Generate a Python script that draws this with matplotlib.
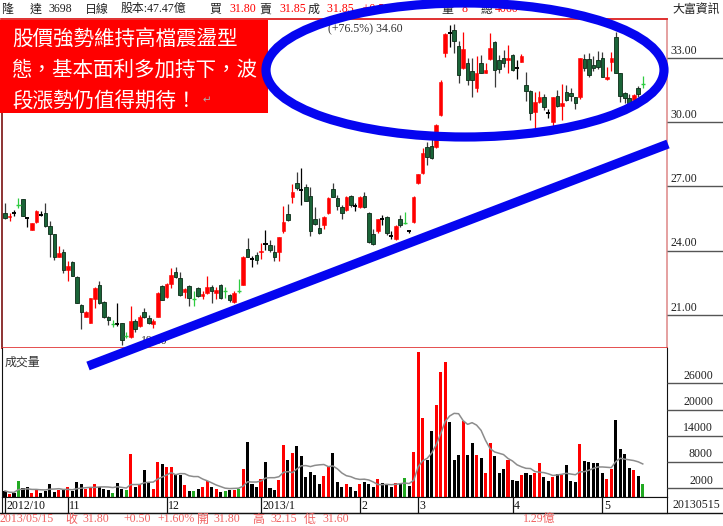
import matplotlib
matplotlib.use("Agg")
import matplotlib.pyplot as plt
import numpy as np
import pandas as pd
from matplotlib.patches import Ellipse, Rectangle

# ---------------- data ----------------
opens = [25.78, 25.58, 25.75, 26.20, 26.41, 25.52, 24.97, 25.36, 25.67, 25.78,
         25.16, 24.79, 23.73, 23.96, 23.08, 23.49, 22.77, 21.47, 20.93, 20.65,
         21.74, 22.41, 21.63, 20.93, 20.62, 20.59, 20.62, 20.10, 19.99, 20.70,
         20.49, 21.16, 20.88, 20.59, 20.93, 22.36, 21.86, 22.45, 23.00, 22.72,
         22.09, 22.36, 21.86, 22.25, 21.90, 22.02, 22.33, 22.05, 22.41, 22.20,
         21.94, 21.60, 22.20, 22.41, 24.07, 23.61, 23.81, 23.96, 24.32, 24.27,
         23.96, 23.92, 24.90, 25.71, 26.50, 27.15, 26.84, 26.97, 26.56, 25.47,
         25.05, 25.21, 25.75, 26.87, 26.44, 26.03, 25.91, 26.56, 26.10, 26.03,
         26.56, 25.78, 24.79, 24.94, 25.47, 25.57, 24.69, 24.54, 25.47, 25.40,
         24.90, 25.36, 27.18, 27.62, 28.86, 28.90, 28.86, 30.34, 33.22, 34.15,
         34.31, 33.56, 32.52, 32.78, 32.41, 31.59, 32.78, 32.32, 32.94, 33.76,
         32.90, 32.98, 32.90, 33.14, 32.52, 32.83, 31.74, 31.47, 30.49, 30.96,
         31.17, 30.45, 30.03, 31.23, 30.76, 31.43, 31.38, 31.17, 31.17, 32.94,
         32.94, 32.67, 32.90, 32.98, 32.00, 32.83, 34.00, 32.29, 31.38, 31.13,
         31.04, 31.59, 31.80]
highs = [26.25, 25.75, 25.88, 26.47, 26.41, 25.55, 25.30, 25.90, 25.87, 26.22,
         25.41, 24.79, 24.23, 24.07, 23.54, 23.54, 22.80, 21.50, 21.20, 21.80,
         22.33, 22.61, 21.65, 20.97, 20.75, 21.55, 20.65, 20.20, 21.40, 20.81,
         21.00, 21.32, 21.00, 20.80, 22.07, 22.40, 22.50, 23.19, 23.26, 23.03,
         22.25, 22.40, 22.10, 22.30, 22.10, 22.80, 22.38, 22.30, 22.45, 22.33,
         21.98, 22.10, 22.70, 23.75, 24.59, 23.76, 23.96, 24.35, 24.97, 24.50,
         24.27, 24.65, 26.10, 26.19, 27.10, 27.70, 27.85, 27.10, 26.97, 26.03,
         25.52, 25.60, 26.50, 27.15, 26.60, 26.14, 26.55, 26.60, 26.25, 26.55,
         26.76, 25.80, 25.00, 25.50, 25.67, 25.60, 24.90, 25.20, 25.67, 25.83,
         24.95, 26.55, 27.60, 28.79, 29.10, 29.20, 29.90, 31.95, 34.15, 34.54,
         34.60, 33.80, 34.23, 33.00, 33.00, 33.10, 33.14, 32.75, 34.15, 33.80,
         33.15, 33.37, 33.60, 33.20, 32.90, 33.20, 32.36, 31.50, 31.40, 31.45,
         31.30, 30.60, 31.20, 31.50, 31.80, 31.74, 31.60, 31.20, 33.00, 33.20,
         33.22, 33.10, 33.34, 33.30, 32.59, 33.30, 34.23, 32.30, 31.40, 31.30,
         31.30, 31.70, 32.15]
lows = [25.47, 25.40, 25.63, 26.00, 25.60, 25.10, 24.95, 25.30, 25.60, 25.10,
        23.73, 23.57, 23.70, 22.95, 22.61, 22.80, 21.55, 20.34, 20.90, 20.62,
        21.33, 21.50, 20.85, 20.54, 20.45, 20.50, 19.60, 19.95, 19.95, 20.23,
        20.45, 20.88, 20.58, 20.39, 20.90, 21.68, 21.79, 22.25, 22.72, 21.90,
        21.79, 21.40, 21.40, 21.82, 21.75, 22.00, 21.58, 21.75, 21.75, 21.79,
        21.60, 21.55, 22.05, 22.38, 23.70, 23.23, 23.40, 23.61, 24.04, 23.95,
        23.50, 23.50, 24.85, 25.40, 26.25, 26.85, 26.14, 26.30, 24.69, 25.20,
        24.80, 25.00, 25.70, 26.50, 25.90, 25.47, 25.85, 26.05, 25.85, 25.98,
        26.00, 24.35, 24.25, 24.82, 25.20, 24.75, 24.55, 24.50, 25.10, 25.25,
        24.85, 25.30, 27.10, 27.60, 28.00, 28.30, 28.80, 30.30, 33.03, 33.53,
        33.22, 31.82, 32.50, 31.74, 31.20, 31.40, 32.30, 32.30, 32.90, 31.66,
        32.30, 32.60, 32.30, 32.40, 32.00, 32.80, 31.00, 30.10, 29.72, 30.90,
        30.57, 30.20, 29.80, 30.70, 30.10, 31.00, 31.00, 30.60, 31.10, 32.40,
        32.10, 32.40, 32.50, 32.10, 31.95, 32.40, 32.30, 30.96, 30.90, 30.70,
        30.95, 31.20, 31.60]
closes = [25.52, 25.62, 25.75, 26.15, 25.63, 25.52, 25.29, 25.87, 25.67, 25.16,
          24.79, 23.73, 23.89, 23.11, 23.29, 22.83, 21.58, 21.16, 21.16, 21.79,
          22.25, 21.55, 20.90, 20.77, 20.57, 20.59, 19.84, 20.00, 20.70, 20.34,
          20.90, 20.90, 20.62, 20.73, 22.05, 21.71, 22.44, 22.87, 22.79, 21.94,
          22.20, 21.79, 21.76, 21.89, 21.98, 22.33, 22.10, 22.15, 21.79, 22.10,
          21.71, 22.05, 22.10, 23.70, 23.73, 23.61, 23.57, 24.01, 24.32, 24.04,
          23.70, 24.63, 25.36, 25.44, 26.76, 26.92, 26.84, 26.34, 24.90, 25.25,
          24.85, 25.57, 26.48, 26.53, 26.10, 25.78, 26.50, 26.14, 26.10, 26.50,
          26.03, 24.43, 24.32, 25.47, 25.47, 24.82, 24.69, 25.16, 25.21, 25.30,
          24.90, 26.50, 27.59, 28.55, 28.37, 28.32, 29.87, 31.90, 34.12, 34.15,
          33.81, 32.21, 33.41, 31.97, 31.97, 32.29, 32.32, 32.44, 33.45, 32.44,
          32.47, 32.78, 33.00, 32.44, 32.52, 33.09, 31.47, 30.42, 30.96, 31.17,
          30.73, 30.45, 31.17, 30.76, 30.90, 31.04, 31.23, 30.89, 32.98, 32.52,
          32.21, 32.52, 32.60, 32.13, 32.10, 32.98, 32.32, 31.23, 31.12, 30.90,
          31.27, 31.30, 31.80]
volumes = [1390, 800, 940, 3670, 2170, 2250, 940, 1700, 940, 1390,
           3080, 1160, 1700, 1940, 2300, 1390, 3450, 2920, 1940, 2170,
           2920, 2250, 1940, 1560, 1020, 3220, 1940, 1560, 9770, 2400,
           2920, 6110, 3220, 1940, 8010, 7630, 6870, 6870, 4970, 4970,
           2670, 1390, 1390, 1940, 2400, 3670, 2250, 1940, 1160, 1390,
           1700, 1700, 1940, 6490, 12570, 3080, 2250, 4210, 8010, 2170,
           1700, 3980, 11820, 8400, 10060, 11750, 9310, 4590, 5730, 4970,
           2920, 4740, 6870, 10060, 3450, 2300, 3080, 2300, 1390, 3080,
           3460, 2920, 2300, 4210, 3230, 2920, 2300, 3230, 2920, 4360,
           2450, 10300, 33110, 18140, 8550, 15080, 20950, 28550, 30830, 17140,
           8550, 9500, 17370, 9540, 12350, 9540, 9020, 5500, 12350, 9310,
           5500, 6500, 8400, 3830, 3680, 4970, 5500, 5000, 5500, 7780,
           4590, 3690, 4590, 5360, 4970, 7260, 3690, 3450, 12050, 8240,
           7950, 7710, 7860, 5500, 4220, 6500, 17530, 11070, 9930, 6730,
           6280, 4750, 3080]
bright_idx = [3, 24, 27, 42, 49, 52, 89, 142]
month_labels = ["2012/10", "11", "12", "2013/1", "2", "3", "4", "5"]
month_starts = [0, 14, 36, 57, 79, 92, 113, 133]
price_ticks = [21, 24, 27, 30, 33]
price_tick_labels = ["21.00", "24.00", "27.00", "30.00", "33.00"]
vol_ticks = [2000, 8000, 14000, 20000, 26000]
vol_tick_labels = ["2000", "8000", "14000", "20000", "26000"]

# ---------------- figure ----------------
W, H = 723, 526
fig = plt.figure(figsize=(W / 100, H / 100), dpi=100)
fig.patch.set_facecolor("white")

CJK = ["Noto Sans CJK TC", "DejaVu Sans"]
NUM = ["Liberation Serif", "Noto Sans CJK TC", "DejaVu Sans"]
FS = 8.6


def fr(x0, y0, x1, y1):
    return [x0 / W, 1 - y1 / H, (x1 - x0) / W, (y1 - y0) / H]


o = np.array(opens); h = np.array(highs); l = np.array(lows); c = np.array(closes)
v = np.array(volumes)
n = len(o)
idx = np.arange(n)
XL = (-0.67, 147.4)

RED = "#FF0000"
DGREEN = "#1A6438"
BGREEN = "#2ECC40"

# price panel
axp = fig.add_axes(fr(2, 19, 667, 348))
axp.set_xlim(*XL)
axp.set_ylim(19.46, 34.82)
axp.set_xticks([]); axp.set_yticks([])
for s, col in [("left", "#7A1010"), ("top", "#E03030"), ("right", "#E09090"), ("bottom", "#E03030")]:
    axp.spines[s].set_color(col)
    axp.spines[s].set_linewidth(1.2)

bright = np.zeros(n, bool); bright[bright_idx] = True
up = (c > o) & ~bright
down = (c < o) & ~bright
flat = (c == o) & ~bright

# wicks
wick_col = np.where(up, RED, np.where(down, "#3A3A3A", np.where(bright, BGREEN, "#000000")))
axp.vlines(idx, l, h, colors=list(wick_col), linewidth=0.9, zorder=2)
# bodies
bw = 0.8
axp.bar(idx[up], (c - o)[up], bottom=o[up], width=bw, color=RED, edgecolor=RED, linewidth=0.4, zorder=3)
axp.bar(idx[down], (o - c)[down], bottom=c[down], width=bw, color=DGREEN, edgecolor="#0A2A16", linewidth=0.6, zorder=3)
# doji / thin crosses
axp.hlines(o[flat], idx[flat] - 0.45, idx[flat] + 0.45, colors="#000000", linewidth=1.4, zorder=3)
axp.hlines(c[bright], idx[bright] - 0.45, idx[bright] + 0.45, colors=BGREEN, linewidth=1.0, zorder=3)

# high / low annotations
hi_i = int(np.argmax(h)); lo_i = int(np.argmin(l))
axp.text(72.0, h[hi_i] - 0.25, f"(+{(h[hi_i] / l[lo_i] - 1) * 100:.1f}%) {h[hi_i]:.2f}",
         fontsize=FS, family=NUM, color="#333333", va="center", ha="left")
axp.text(lo_i + 4.3, l[lo_i] + 0.2, f"{l[lo_i]:.2f}", fontsize=FS, family=NUM, color="#333333",
         va="center", ha="left")

# right price labels
axr = fig.add_axes(fr(667, 19, 723, 348))
axr.set_xlim(0, 1); axr.set_ylim(axp.get_ylim())
axr.axis("off")
axr.hlines(price_ticks, 0, 1, colors="#555555", linewidth=1.0)
for t_, lab in zip(price_ticks, price_tick_labels):
    axr.text(0.06, t_ + 0.06, lab, fontsize=FS, family=NUM, color="#222222", va="bottom", ha="left")

# volume panel
axv = fig.add_axes(fr(2, 348, 667, 497))
axv.set_xlim(*XL)
axv.set_ylim(0, 34060)
axv.set_xticks([]); axv.set_yticks([])
axv.spines["top"].set_visible(False)
for s in ["left", "right", "bottom"]:
    axv.spines[s].set_color("#111111")
vcol = np.where(up, RED, np.where(bright, "#22AA22", "#000000"))
axv.bar(idx, v, width=0.68, color=list(vcol), linewidth=0, zorder=2)
ma = pd.Series(v).rolling(10, min_periods=1).mean()
axv.plot(idx, ma, color="#8C8C8C", linewidth=1.1, zorder=3)
axv.text(0.004, 0.95, "成交量", transform=axv.transAxes, fontsize=FS, family=CJK, color="#333333",
         va="top", ha="left")

axrv = fig.add_axes(fr(667, 348, 723, 497))
axrv.set_xlim(0, 1); axrv.set_ylim(axv.get_ylim())
axrv.axis("off")
axrv.hlines(vol_ticks, 0, 1, colors="#555555", linewidth=1.0)
for t_, lab in zip(vol_ticks, vol_tick_labels):
    axrv.text(0.82, t_ + 400, lab, fontsize=FS, family=NUM, color="#222222", va="bottom", ha="right")

# date row
axd = fig.add_axes(fr(2, 497, 667, 513))
axd.set_xlim(*XL); axd.set_ylim(0, 1)
axd.set_xticks([]); axd.set_yticks([])
for s in axd.spines.values():
    s.set_color("#111111")
axd.vlines(month_starts, 0, 1, colors="#111111", linewidth=0.9)
for m, lab in zip(month_starts, month_labels):
    axd.text(m + 0.35, 0.45, lab, fontsize=FS, family=NUM, color="#111111", va="center", ha="left")

# ---------------- overlay (header, footer, annotations) ----------------
ov = fig.add_axes([0, 0, 1, 1], zorder=10)
ov.set_xlim(0, W); ov.set_ylim(H, 0)
ov.axis("off")
ov.patch.set_alpha(0)


def t(x, y, s, col="#222222", fam=NUM, size=FS, ha="left", **kw):
    ov.text(x, y, s, color=col, family=fam, fontsize=size, ha=ha, va="center", **kw)


# header
t(1, 9, "隆", fam=CJK); t(30, 9, "達", fam=CJK)
t(48, 9, "3698"); t(85, 9, "日線", fam=CJK); t(121, 9, "股本:47.47億")
t(209, 9, "買", fam=CJK); t(229, 9, "31.80", col=RED); t(259, 9, "賣", fam=CJK)
t(279, 9, "31.85", col=RED); t(308, 9, "成", fam=CJK); t(327, 9, "31.85   +0.55", col=RED)
t(441, 9, "量", fam=CJK); t(461, 9, "8", col=RED); t(481, 9, "總", fam=CJK); t(495, 9, "4060", col=RED)
t(720, 9, "大富資訊", fam=CJK, ha="right")
ov.plot([0, 667], [19, 19], color="#E03030", lw=1.2)

# footer
FC = "#F06060"
ov.plot([0, 723], [513, 513], color="#111111", lw=1.0)
t(0, 519, "2013/05/15", col=FC); t(65, 519, "收", col=FC, fam=CJK); t(82, 519, "31.80", col=FC)
t(123, 519, "+0.50", col=FC); t(157, 519, "+1.60%", col=FC); t(197, 519, "開", col=FC, fam=CJK)
t(213, 519, "31.80", col=FC); t(252, 519, "高", col=FC, fam=CJK); t(270, 519, "32.15", col=FC)
t(304, 519, "低", col=FC, fam=CJK); t(322, 519, "31.60", col=FC); t(523, 519, "1.29億", col=FC)
t(720, 505, "20130515", ha="right")

# red comment box
ov.add_patch(Rectangle((0, 20), 268, 93, facecolor="#FF0000", edgecolor="none", zorder=5))
box_lines = ["股價強勢維持高檔震盪型", "態，基本面利多加持下，波", "段漲勢仍值得期待！"]
for k, s in enumerate(box_lines):
    ov.text(12, 38.5 + 31 * k, s, color="white", family=CJK, fontsize=14.8, ha="left", va="center",
            zorder=6, fontweight="medium")
ov.text(203, 100, "↵", color="#B0B0B0", family=["DejaVu Sans"], fontsize=7.5, ha="left", va="center", zorder=6)

# blue marks
BLUE = "#0505F0"
ov.add_patch(Ellipse((465, 70), 398, 134, fill=False, edgecolor=BLUE, linewidth=6.6, zorder=7))
ov.plot([88, 668], [366, 144], color=BLUE, linewidth=6.6, solid_capstyle="butt", zorder=7)

fig.savefig("out.png", dpi=100)
